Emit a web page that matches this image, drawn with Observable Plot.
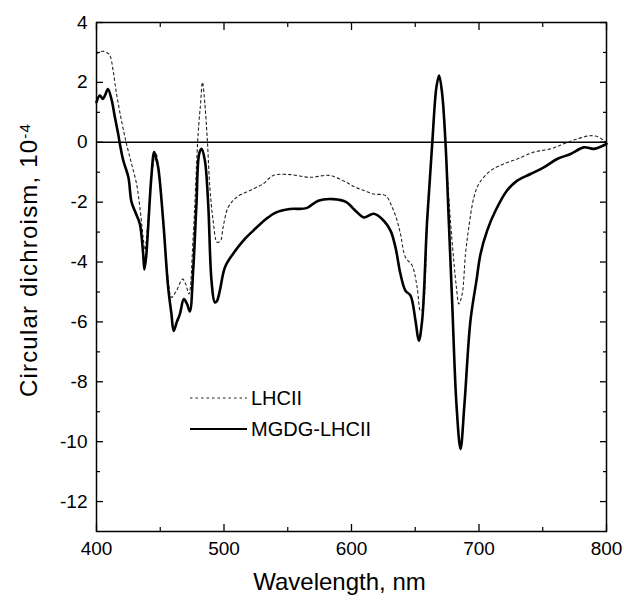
<!DOCTYPE html>
<html><head><meta charset="utf-8">
<script src="https://cdn.jsdelivr.net/npm/d3@7"></script>
<script src="https://cdn.jsdelivr.net/npm/@observablehq/plot@0.6"></script>
<style>body{margin:0;background:#fff} #chart{width:624px;height:600px}</style>
</head><body><div id="chart"></div>
<script>
// ---- data ----
const wavelengthsMGDG = [400,402.6,405,407,409,412,414.4,417,418.3,421,425,427.5,431,434,436.6,437.6,439,440.5,443,445.2,446.5,448.4,452.3,456.2,458.8,460.5,463,465.4,468.5,471,473.2,475.8,478.4,480.5,482.4,485,487.6,490.2,492.8,494.5,496.7,500.7,507,515,523,533,541,551.6,564.7,573.9,585.6,596,601,604.4,609.7,617.5,625.3,630.6,634.5,638.4,642.3,646.3,650.2,652.8,655.4,659.3,663.3,666.6,668.7,671.1,673.7,676.3,679,682.3,685.5,688.6,693.3,698,701.2,706.4,713,722,730,740.4,750.8,761.3,771.8,782.2,790,797.9,800];
const cdMGDG = [1.34,1.56,1.45,1.6,1.78,1.39,0.84,0.28,-0.05,-0.61,-1.17,-2.0,-2.39,-2.73,-3.73,-4.25,-3.8,-2.84,-1.17,-0.33,-0.5,-0.84,-2.62,-4.85,-5.74,-6.3,-6.0,-5.74,-5.24,-5.4,-5.65,-4.29,-2.06,-0.39,-0.22,-0.61,-2.06,-4.62,-5.35,-5.3,-4.96,-4.18,-3.73,-3.29,-2.95,-2.56,-2.34,-2.23,-2.2,-1.95,-1.9,-2.0,-2.2,-2.34,-2.51,-2.39,-2.62,-2.95,-3.51,-4.4,-4.96,-5.12,-5.96,-6.63,-5.96,-2.62,-0.05,1.84,2.23,1.62,0,-2.62,-5.4,-8.74,-10.25,-8.74,-5.96,-4.62,-3.73,-2.95,-2.28,-1.61,-1.28,-1.06,-0.84,-0.56,-0.39,-0.17,-0.22,-0.1,-0.05];
const wavelengthsLHCII = [400,402,405,408,410.5,413,415.7,419.6,423.5,427.5,431.4,434,436.6,438,440,443,446.5,449,452.5,456,458.8,462.7,467.5,470,472.5,475.8,479.7,481.6,483.1,485,487,488.9,491.5,494.6,497.3,499.3,503.3,509.8,520.3,530.7,538.6,551.6,567.3,583,596,603,609.7,617.5,626.7,631.9,635.8,638.4,642.3,647.6,651.5,654.1,655.5,659.5,663.5,666.6,668.7,671,673.5,675,677.6,680.2,682.3,684.2,686.8,689.4,692,696,699.9,709,719.5,730,743,756,766.5,777,787.5,794,797.9,800];
const cdLHCII = [2.95,3.0,3.04,3.0,2.9,2.4,1.62,0.72,-0.05,-0.72,-1.39,-2.17,-3.18,-3.6,-2.8,-1.2,-0.35,-1.0,-2.8,-4.5,-5.18,-4.96,-4.57,-4.74,-5.07,-3.18,0.28,1.28,2.0,1.28,0.02,-1.5,-2.62,-3.34,-3.29,-2.84,-2.17,-1.84,-1.61,-1.39,-1.11,-1.08,-1.17,-1.11,-1.34,-1.5,-1.61,-1.73,-1.78,-2.17,-2.62,-3.06,-3.84,-4.12,-4.85,-5.63,-5.6,-2.6,0.0,1.8,2.2,1.6,0.2,-0.95,-2.62,-3.95,-4.85,-5.4,-5.07,-3.73,-2.84,-1.84,-1.39,-0.95,-0.72,-0.56,-0.33,-0.22,-0.05,0.11,0.22,0.17,0.05,0.0];
const xTicksMajor = [400,500,600,700,800];
const xTicksMinor = [450,550,650,750];
const yTicksMajor = [4,2,0,-2,-4,-6,-8,-10,-12];
const yTicksMinor = [3,1,-1,-3,-5,-7,-9,-11];
const seriesNames = ["LHCII","MGDG-LHCII"];
const xTitle = "Wavelength, nm";
const yTitle = "Circular dichroism, 10";
const yTitleSup = "-4";

// ---- build tables ----
const mgdg = wavelengthsMGDG.map((w,i)=>({w, v: cdMGDG[i]}));
const lhcii = wavelengthsLHCII.map((w,i)=>({w, v: cdLHCII[i]}));
const blank = () => "";
const num = d => String(d);
const FONT = "'Liberation Sans', Arial, Helvetica, sans-serif";

const plot = Plot.plot({
  width: 624, height: 600,
  marginLeft: 96, marginRight: 18, marginTop: 22, marginBottom: 69,
  style: {fontFamily: FONT, fontSize: "19px", color: "#000", background: "#fff", overflow: "visible"},
  x: {domain: [400, 800]},
  y: {domain: [-13, 4]},
  marks: [
    Plot.ruleY([0], {stroke: "#000", strokeWidth: 1.4}),
    Plot.lineY(lhcii, {x: "w", y: "v", stroke: "#222", strokeWidth: 1.1, strokeDasharray: "2.5,3", curve: "catmull-rom"}),
    Plot.lineY(mgdg, {x: "w", y: "v", stroke: "#000", strokeWidth: 2.6, curve: "catmull-rom"}),
    Plot.frame({stroke: "#000", strokeWidth: 1.5}),
    Plot.axisX(xTicksMajor, {anchor: "bottom", tickSize: -7, tickPadding: 17, tickFormat: num, label: null, fontSize: 19, strokeWidth: 1.3}),
    Plot.axisX(xTicksMinor, {anchor: "bottom", tickSize: -4, tickFormat: blank, label: null, strokeWidth: 1.2}),
    Plot.axisX(xTicksMajor, {anchor: "top", tickSize: -7, tickFormat: blank, label: null, strokeWidth: 1.3}),
    Plot.axisX(xTicksMinor, {anchor: "top", tickSize: -4, tickFormat: blank, label: null, strokeWidth: 1.2}),
    Plot.axisY(yTicksMajor, {anchor: "left", tickSize: -7, tickPadding: 16, tickFormat: num, label: null, fontSize: 19, strokeWidth: 1.3}),
    Plot.axisY(yTicksMinor, {anchor: "left", tickSize: -4, tickFormat: blank, label: null, strokeWidth: 1.2}),
    Plot.axisY(yTicksMajor, {anchor: "right", tickSize: -7, tickFormat: blank, label: null, strokeWidth: 1.3}),
    Plot.axisY(yTicksMinor, {anchor: "right", tickSize: -4, tickFormat: blank, label: null, strokeWidth: 1.2}),
    Plot.text([xTitle], {text: d => d, frameAnchor: "bottom", textAnchor: "middle", lineAnchor: "middle", dy: 51, dx: -12, fontSize: 24, fill: "#000"}),
    Plot.text([yTitle], {text: d => d, frameAnchor: "left", textAnchor: "middle", lineAnchor: "middle", dx: -67, dy: -17, rotate: -90, fontSize: 24, fill: "#000"})
  ]
});
document.getElementById("chart").appendChild(plot);

// superscript on the y title
const svg = d3.select(plot);
svg.selectAll("text").filter(function(){ return this.textContent === yTitle; })
  .style("letter-spacing", "1.2px")
  .append("tspan").attr("dy", "-0.45em").attr("font-size", 15).text(yTitleSup);

// legend (inside the plot area)
const lg = svg.append("g").attr("font-family", FONT).attr("font-size", 20).attr("fill", "#000").attr("text-anchor", "start");
const rows = [{name: seriesNames[0], y: 398, dash: "2.5,3", w: 1.1, c: "#222"}, {name: seriesNames[1], y: 429, dash: null, w: 2.2, c: "#000"}];
rows.forEach(r => {
  lg.append("line").attr("x1", 190).attr("x2", 247).attr("y1", r.y).attr("y2", r.y)
    .attr("stroke", r.c).attr("stroke-width", r.w).attr("stroke-dasharray", r.dash);
  lg.append("text").attr("x", 251).attr("y", r.y).attr("dy", "0.35em").attr("text-anchor", "start").text(r.name);
});
</script>
</body></html>
